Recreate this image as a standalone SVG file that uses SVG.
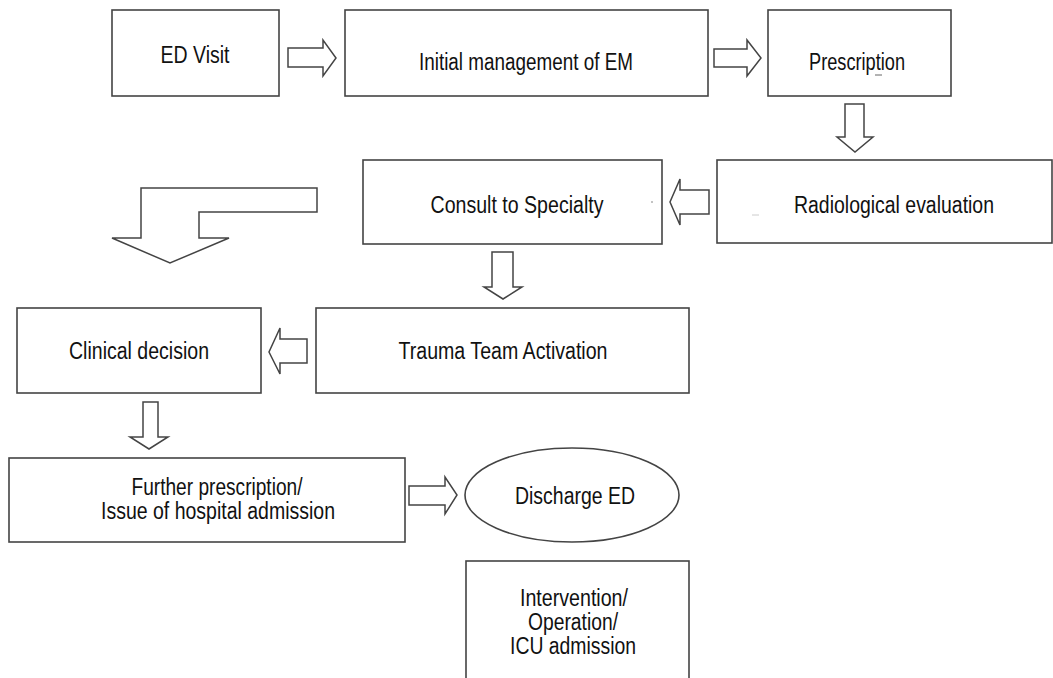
<svg xmlns="http://www.w3.org/2000/svg" width="1053" height="678" viewBox="0 0 1053 678">
<style>
.box{fill:#fff;stroke:#444;stroke-width:1.6}
.arr{fill:#fff;stroke:#444;stroke-width:1.5;stroke-linejoin:miter}
.t{font-family:"Liberation Sans Narrow","Liberation Sans",Arial,sans-serif;font-size:23px;fill:#111;text-anchor:middle}
</style>
<rect width="1053" height="678" fill="#fff"/>
<g id="connectors">
<path class="arr" d="M288,48 H323 V40 L336,58 L323,76 V67 H288 Z"/>
<path class="arr" d="M714,49 H747 V40 L761,58 L747,76 V67 H714 Z"/>
<path class="arr" d="M845,104 V137 H837 L855,152 L873,137 H864 V104 Z"/>
<path class="arr" d="M709,190 H680 V179 L670,202 L680,225 V214 H709 Z"/>
<path class="arr" d="M317,188 H141 V238 H112 L170,263 L229,238 H199 V212 H317 Z"/>
<path class="arr" d="M492,252 V287 H484 L503,299 L522,287 H513 V252 Z"/>
<path class="arr" d="M307,339 H280 V328 L269,352 L280,374 V363 H307 Z"/>
<path class="arr" d="M143,402 V437 H130 L149,449 L168,437 H158 V402 Z"/>
<path class="arr" d="M409,486 H445 V477 L457,495 L445,514 V505 H409 Z"/>
</g>
<g id="ed-visit">
<rect class="box" x="112" y="10" width="167" height="86"/>
<text class="t" x="195" y="63" textLength="69" lengthAdjust="spacingAndGlyphs">ED Visit</text>
</g>
<g id="initial-management">
<rect class="box" x="345" y="10" width="363" height="86"/>
<text class="t" x="526" y="70" textLength="214" lengthAdjust="spacingAndGlyphs">Initial management of EM</text>
</g>
<g id="prescription">
<rect class="box" x="768" y="10" width="183" height="86"/>
<text class="t" x="857" y="70" textLength="96" lengthAdjust="spacingAndGlyphs">Prescription</text>
<line x1="875" y1="75" x2="882" y2="75" stroke="#666" stroke-width="1"/>
</g>
<g id="radiological-evaluation">
<rect class="box" x="717" y="160" width="335" height="83"/>
<text class="t" x="894" y="213" textLength="200" lengthAdjust="spacingAndGlyphs">Radiological evaluation</text>
<line x1="752" y1="215" x2="759" y2="215" stroke="#ccc" stroke-width="1"/>
</g>
<g id="consult-specialty">
<rect class="box" x="363" y="160" width="299" height="84"/>
<text class="t" x="517" y="213" textLength="173" lengthAdjust="spacingAndGlyphs">Consult to Specialty</text>
<circle cx="652" cy="202" r="0.8" fill="#777"/>
</g>
<g id="clinical-decision">
<rect class="box" x="17" y="308" width="244" height="85"/>
<text class="t" x="139" y="359" textLength="140" lengthAdjust="spacingAndGlyphs">Clinical decision</text>
</g>
<g id="trauma-team">
<rect class="box" x="316" y="308" width="373" height="85"/>
<text class="t" x="503" y="359" textLength="209" lengthAdjust="spacingAndGlyphs">Trauma Team Activation</text>
</g>
<g id="further-prescription">
<rect class="box" x="9" y="458" width="396" height="84"/>
<text class="t" x="217" y="495" textLength="171" lengthAdjust="spacingAndGlyphs">Further prescription/</text>
<text class="t" x="218" y="519" textLength="234" lengthAdjust="spacingAndGlyphs">Issue of hospital admission</text>
</g>
<g id="discharge-ed">
<ellipse class="box" cx="572" cy="495" rx="107" ry="47"/>
<text class="t" x="575" y="504" textLength="120" lengthAdjust="spacingAndGlyphs">Discharge ED</text>
</g>
<g id="intervention">
<rect class="box" x="466" y="561" width="223" height="130"/>
<text class="t" x="574" y="606" textLength="108" lengthAdjust="spacingAndGlyphs">Intervention/</text>
<text class="t" x="573" y="630" textLength="90" lengthAdjust="spacingAndGlyphs">Operation/</text>
<text class="t" x="573" y="654" textLength="126" lengthAdjust="spacingAndGlyphs">ICU admission</text>
</g>
</svg>
